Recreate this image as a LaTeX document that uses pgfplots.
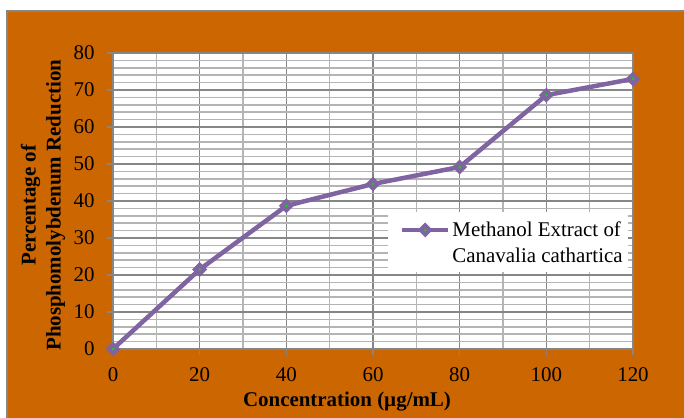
\documentclass[border=0pt]{standalone}
\usepackage{fontspec}
\setmainfont{Liberation Serif}
\usepackage{pgfplots}
\pgfplotsset{compat=1.18}
\definecolor{bgor}{HTML}{CC6600}
\definecolor{mypurple}{HTML}{8064A2}
\definecolor{majgrid}{HTML}{868686}
\definecolor{mingrid}{HTML}{B4B4B4}
\definecolor{mygreen}{HTML}{00E000}
\pgfdeclareplotmark{mydiamond}{%
  \pgfpathmoveto{\pgfqpoint{0pt}{7.5pt}}%
  \pgfpathlineto{\pgfqpoint{7.5pt}{0pt}}%
  \pgfpathlineto{\pgfqpoint{0pt}{-7.5pt}}%
  \pgfpathlineto{\pgfqpoint{-7.5pt}{0pt}}%
  \pgfpathclose
  \pgfsetfillcolor{mypurple}\pgfusepath{fill}%
  \pgfpathcircle{\pgfpointorigin}{1.4pt}%
  \pgfsetfillcolor{mygreen}\pgfusepath{fill}%
}
\begin{document}
\begin{tikzpicture}
\useasboundingbox (0,0) rectangle (684bp,418bp);
\fill[white] (0,0) rectangle (684bp,418bp);
\fill[bgor] (7bp,0) rectangle (684bp,407bp);
\draw[majgrid, line width=1.5bp] (7bp,0) -- (7bp,407bp) -- (684bp,407bp);
\begin{axis}[
  at={(113bp,69bp)}, anchor=south west,
  width=520bp, height=296bp, scale only axis,
  xmin=0, xmax=120, ymin=0, ymax=80,
  xtick={0,20,...,120}, ytick={0,10,...,80},
  minor x tick num=1, minor y tick num=4,
  grid=both,
  major grid style={majgrid, line width=1.5bp},
  minor grid style={mingrid, line width=1.6bp},
  axis background/.style={fill=white},
  axis line style={majgrid, line width=1.5bp},
  tick align=outside, tick pos=left,
  major tick length=6bp, minor tick length=0pt,
  tick style={majgrid, line width=1.3bp},
  /pgf/number format/assume math mode=true,
  ticklabel style={font=\fontsize{21}{24}\selectfont, text=black},
  yticklabel style={xshift=-9bp},
  xticklabel style={yshift=-9bp},
  xlabel={\textbf{Concentration (µg/mL)}},
  xlabel style={at={(axis description cs:0.45,0)}, anchor=base, yshift=-57bp, font=\fontsize{21}{24}\selectfont},
  ylabel={\textbf{Percentage of}\\\textbf{Phosphomolybdenum Reduction}},
  ylabel style={at={(axis description cs:-0.1346,0.486)}, anchor=center, rotate=0, align=center, font=\fontsize{21}{25}\selectfont},
  legend style={at={(axis description cs:0.99,0.36)}, anchor=east, fill=white, draw=none,
    font=\fontsize{21}{26}\selectfont, cells={align=left}, inner ysep=7bp},
  legend image code/.code={\path (-9bp,12.5bp); \draw[mark repeat=2,mark phase=2] plot coordinates {(0bp,12.5bp)(23bp,12.5bp)(46bp,12.5bp)};},
  clip=false,
]
\addplot[mypurple, line width=4.5bp, mark=mydiamond] coordinates {
  (0,0) (20,21.5) (40,38.7) (60,44.6) (80,49.2) (100,68.6) (120,73.0)
};
\addlegendentry{Methanol Extract of\\Canavalia cathartica}
\end{axis}
\end{tikzpicture}
\end{document}
